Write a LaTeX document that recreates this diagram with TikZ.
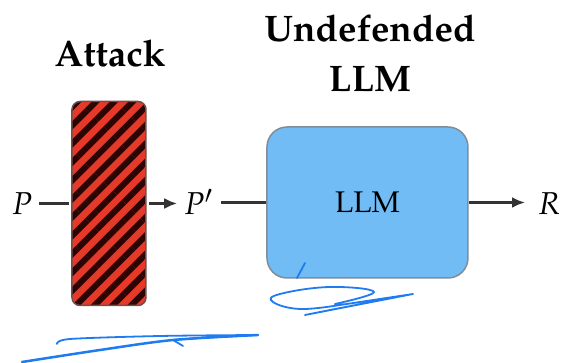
\documentclass[tikz,border=0pt]{standalone}
\usepackage[T1]{fontenc}
\usepackage{mathpazo}
\usetikzlibrary{arrows.meta,patterns.meta}

\definecolor{attackred}{HTML}{E5392A}
\definecolor{stripedark}{HTML}{2B0504}
\definecolor{llmblue}{HTML}{71BCF5}
\definecolor{llmedge}{HTML}{7F8D99}
\definecolor{inkblue}{HTML}{1E7BF0}

\tikzset{
  attackbox/.style={minimum width=7.4mm, minimum height=20.4mm, rounded corners=0.8mm,
    draw=stripedark!70, line width=0.15mm, preaction={fill=attackred},
    pattern={Lines[angle=45,distance=1.3mm,line width=0.6mm]}, pattern color=stripedark},
  llmbox/.style={minimum width=20.1mm, minimum height=15.1mm, rounded corners=2mm,
    fill=llmblue, draw=llmedge, line width=0.15mm, font=\fontsize{8.5}{10}\selectfont},
  title/.style={font=\fontsize{10.5}{14.2}\selectfont\bfseries, align=center},
  lbl/.style={font=\fontsize{9}{10}\selectfont, inner sep=0.6mm, anchor=base},
  conn/.style={draw=black!80, line width=0.3mm},
  arr/.style={conn, -{Latex[length=1.3mm,width=1.1mm]}},
  scribble/.style={draw=inkblue, line width=0.18mm, line cap=round, line join=round}
}

\begin{document}
\begin{tikzpicture}[x=0.1mm, y=0.1mm]
  \useasboundingbox (0,0) rectangle (564,363);
  % boxes
  \node[attackbox] (attack) at (109,159.5) {};
  \node[llmbox]    (llm)    at (367.5,160.5) {LLM};
  \node[title] (attacktitle) at (110,309.5) {Attack};
  \node[title] (llmtitle)    at (370,309.5) {Undefended\\LLM};
  % prompts and response
  \node[lbl] (p)  at (22,148)  {$P$};
  \node[lbl] (pp) at (199,148) {$P'$};
  \node[lbl, inner sep=1.2mm] (r)  at (549,148) {$R$};
  \draw[conn] (attack.west -| p.east) -- (attack.west);
  \draw[arr]  (attack.east) -- (attack.east -| pp.west);
  \draw[conn] (llm.west -| pp.east) -- (llm.west);
  \draw[arr]  (llm.east) -- (llm.east -| r.west);
  % pen marks
  \draw[scribble] (297,85) -- (305,100);
  \draw[scribble] plot[smooth, tension=0.7] coordinates {(335,59) (374,71) (330,76) (280,69) (273,61) (300,54) (340,58)}
    -- (413,69) -- (330,53) -- (305,48) -- (413,69);
  \draw[scribble] plot[smooth] coordinates {(57,19) (70,24) (160,27) (258,28)} -- (200,25) -- (173,23) -- (183,17);
  \draw[scribble, line width=0.25mm] plot[smooth] coordinates {(22,1) (100,13) (173,23) (258,28)};
\end{tikzpicture}
\end{document}
